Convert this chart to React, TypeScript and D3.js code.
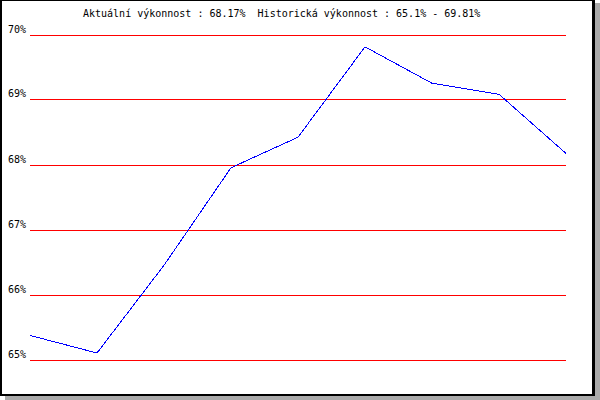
import React from "react";
import * as d3 from "d3";

const points = [1, 2, 3, 4, 5, 6, 7, 8, 9];
const values = [65.37, 65.1, 66.45, 67.95, 68.42, 69.81, 69.25, 69.08, 68.17];
const yTicks = [65, 66, 67, 68, 69, 70];
const yTickLabels = ["65%", "66%", "67%", "68%", "69%", "70%"];
const titleText = "Aktuální výkonnost : 68.17%  Historická výkonnost : 65.1% - 69.81%";

const W = 600;
const H = 400;

export default function App() {
  const x = d3.scaleLinear().domain([1, 9]).range([30, 566]);
  const y = d3.scaleLinear().domain([65, 70]).range([359.5, 34.5]);
  const line = d3
    .line<number>()
    .x((_, i) => x(points[i]))
    .y((d) => y(d));
  const font = "'DejaVu Sans Mono', monospace";
  return (
    <svg
      width={W}
      height={H}
      style={{ position: "absolute", left: 0, top: 0, background: "#fff" }}
    >
      <rect x={5} y={3} width={595} height={397} fill="#aaaaaa" />
      <rect x={0} y={0} width={595} height={396} fill="#000" />
      <rect x={2} y={1} width={590} height={393} fill="#fff" />
      <text
        x={83}
        y={17}
        fontFamily={font}
        fontSize={10}
        fill="#000"
        style={{ whiteSpace: "pre" }}
      >
        {titleText}
      </text>
      {yTicks.map((t, i) => {
        const yy = Math.round(y(t)) + 0.5;
        return (
          <g key={t}>
            <line
              x1={30}
              x2={566}
              y1={yy}
              y2={yy}
              stroke="#ff0000"
              strokeWidth={1}
              shapeRendering="crispEdges"
            />
            <text
              x={26}
              y={yy - 2.5}
              textAnchor="end"
              fontFamily={font}
              fontSize={10}
              fill="#000"
            >
              {yTickLabels[i]}
            </text>
          </g>
        );
      })}
      <path
        d={line(values) || ""}
        fill="none"
        stroke="#0000ff"
        strokeWidth={1}
        shapeRendering="crispEdges"
      />
    </svg>
  );
}
